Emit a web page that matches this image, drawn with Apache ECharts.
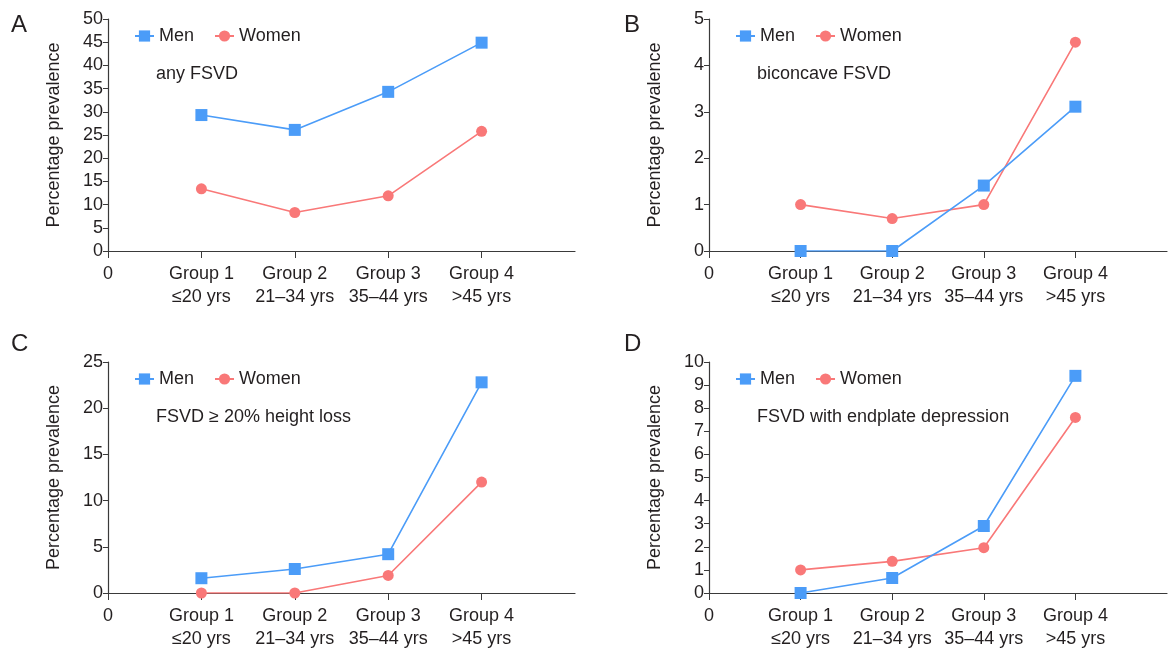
<!DOCTYPE html>
<html>
<head>
<meta charset="utf-8">
<script src="https://cdn.jsdelivr.net/npm/echarts@6/dist/echarts.min.js"></script>
<style>
  html, body { margin: 0; padding: 0; background: #fff; }
  #chart { width: 1170px; height: 652px; }
</style>
</head>
<body>
<div id="chart"></div>
<script>
// x slots: "0" at the origin, four age groups, and an empty slot at the right end
const xLabels = ['0', 'Group 1\n≤20 yrs', 'Group 2\n21–34 yrs', 'Group 3\n35–44 yrs', 'Group 4\n>45 yrs', ''];

const panelLetters = ['A', 'B', 'C', 'D'];
const panelTitles = ['any FSVD', 'biconcave FSVD', 'FSVD ≥ 20% height loss', 'FSVD with endplate depression'];
const yMax = [50, 5, 25, 10];
const yStep = [5, 1, 5, 1];

const menA = [29.3, 26.1, 34.3, 44.9];
const womenA = [13.4, 8.3, 11.9, 25.8];
const menB = [0, 0, 1.41, 3.11];
const womenB = [1.0, 0.7, 1.0, 4.5];
const menC = [1.6, 2.6, 4.2, 22.8];
const womenC = [0, 0, 1.9, 12.0];
const menD = [0, 0.65, 2.9, 9.4];
const womenD = [1.0, 1.37, 1.96, 7.6];

const menData = [menA, menB, menC, menD];
const womenData = [womenA, womenB, womenC, womenD];

const BLUE = '#4b9cf8';
const RED = '#f97878';
const INK = '#231f20';
const FONT = 'Liberation Sans, Arial, sans-serif';

// plot boxes for the four panels
const grids = [
  { left: 108, top: 19, width: 467, height: 232 },
  { left: 709, top: 19, width: 461, height: 232 },
  { left: 108, top: 362, width: 467, height: 231 },
  { left: 709, top: 362, width: 461, height: 231 }
];

const chart = echarts.init(document.getElementById('chart'), null, { renderer: 'canvas' });

const pad = arr => [null, ...arr, null];

const xAxes = grids.map((g, i) => ({
  type: 'category',
  gridIndex: i,
  data: xLabels,
  boundaryGap: false,
  axisLine: { lineStyle: { color: '#3a3a3a', width: 1.2 } },
  axisTick: { show: true, length: 7, interval: idx => idx < 5, lineStyle: { color: '#3a3a3a' } },
  axisLabel: {
    interval: 0, color: INK, fontSize: 18, fontFamily: FONT, lineHeight: 23, margin: 12
  },
  splitLine: { show: false }
}));

const yAxes = grids.map((g, i) => ({
  type: 'value',
  gridIndex: i,
  min: 0,
  max: yMax[i],
  interval: yStep[i],
  name: 'Percentage prevalence',
  nameLocation: 'middle',
  nameGap: 45,
  nameTextStyle: { color: INK, fontSize: 18, fontFamily: FONT },
  axisLine: { show: true, lineStyle: { color: '#3a3a3a', width: 1.2 } },
  axisTick: { show: true, length: 5, lineStyle: { color: '#3a3a3a' } },
  axisLabel: { color: INK, fontSize: 18, fontFamily: FONT, margin: 5 },
  splitLine: { show: false }
}));

const series = [];
grids.forEach((g, i) => {
  series.push({
    name: 'Men', type: 'line', xAxisIndex: i, yAxisIndex: i,
    data: pad(menData[i]),
    symbol: 'rect', symbolSize: 12,
    itemStyle: { color: BLUE },
    lineStyle: { color: BLUE, width: 1.6 },
    z: 3
  });
  series.push({
    name: 'Women', type: 'line', xAxisIndex: i, yAxisIndex: i,
    data: pad(womenData[i]),
    symbol: 'circle', symbolSize: 11,
    itemStyle: { color: RED },
    lineStyle: { color: RED, width: 1.6 },
    z: 2
  });
});

const legends = grids.map((g, i) => ({
  left: g.left + 21,
  top: g.top + 3,
  itemWidth: 19,
  itemHeight: 14,
  itemGap: 20,
  textStyle: { color: INK, fontSize: 18, fontFamily: FONT },
  data: [
    { name: 'Men', itemStyle: { color: BLUE } },
    { name: 'Women', itemStyle: { color: RED } }
  ]
}));

const graphics = [];
grids.forEach((g, i) => {
  graphics.push({
    type: 'text', left: i % 2 === 0 ? 11 : 624, top: g.top - (i < 2 ? 6 : 30),
    style: { text: panelLetters[i], fill: INK, font: '24px ' + FONT }
  });
  graphics.push({
    type: 'text', left: g.left + 48, top: g.top + 46,
    style: { text: panelTitles[i], fill: INK, font: '18px ' + FONT }
  });
});

chart.setOption({
  backgroundColor: '#ffffff',
  animation: false,
  grid: grids,
  xAxis: xAxes,
  yAxis: yAxes,
  legend: legends,
  series: series,
  graphic: graphics
});
</script>
</body>
</html>
